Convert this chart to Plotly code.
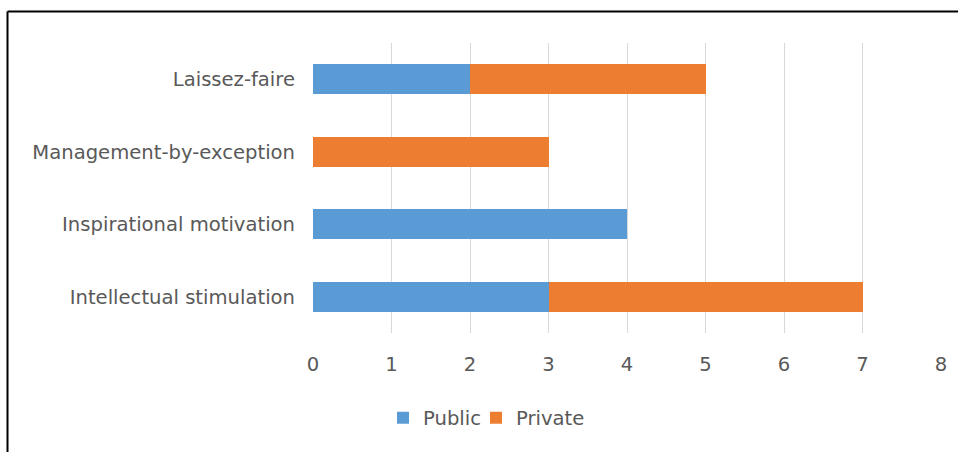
import plotly.graph_objects as go

categories = ["Intellectual stimulation", "Inspirational motivation",
              "Management-by-exception", "Laissez-faire"]
public_vals = [3, 4, 0, 2]
private_vals = [4, 0, 3, 3]
x_ticks = [0, 1, 2, 3, 4, 5, 6, 7, 8]

W, H = 958, 452
ml, mr, mt, mb = 313, 17, 43, 119
pw, ph = W - ml - mr, H - mt - mb

def px_x(x):
    return (x - ml) / pw

def px_y(y):
    return (H - mb - y) / ph

font = dict(family="DejaVu Sans, Noto Sans, sans-serif", size=19.6, color="#595959")

fig = go.Figure()
fig.add_trace(go.Bar(y=categories, x=public_vals, name="Public", orientation="h",
                     legend="legend",
                     marker=dict(color="#5b9bd5", line=dict(width=0))))
fig.add_trace(go.Bar(y=categories, x=private_vals, name="Private", orientation="h",
                     legend="legend2",
                     marker=dict(color="#ed7d31", line=dict(width=0))))

leg_common = dict(orientation="h", xanchor="left", yanchor="middle", font=font,
                  itemwidth=30, bgcolor="rgba(0,0,0,0)")

fig.update_layout(
    width=W, height=H, barmode="stack", bargap=0.586,
    margin=dict(l=ml, r=mr, t=mt, b=mb, pad=0),
    paper_bgcolor="white", plot_bgcolor="white",
    font=font,
    showlegend=True,
    legend=dict(x=px_x(383), y=px_y(418), **leg_common),
    legend2=dict(x=px_x(476), y=px_y(418), **leg_common),
    xaxis=dict(range=[0, 8], tickvals=x_ticks, showgrid=True, gridcolor="#d9d9d9",
               gridwidth=1, zeroline=False, showline=False, ticks="",
               ticklabelstandoff=17, tickfont=font, fixedrange=True),
    yaxis=dict(categoryorder="array", categoryarray=categories, showgrid=False,
               showline=False, ticks="", ticklabelstandoff=17, tickfont=font,
               fixedrange=True),
    shapes=[
        dict(type="line", xref="paper", yref="paper", x0=px_x(7.5), x1=px_x(960),
             y0=px_y(11.5), y1=px_y(11.5), line=dict(color="black", width=2)),
        dict(type="line", xref="paper", yref="paper", x0=px_x(7.5), x1=px_x(7.5),
             y0=px_y(11.5), y1=px_y(455), line=dict(color="black", width=2)),
    ],
)

fig.write_html("out.html")
